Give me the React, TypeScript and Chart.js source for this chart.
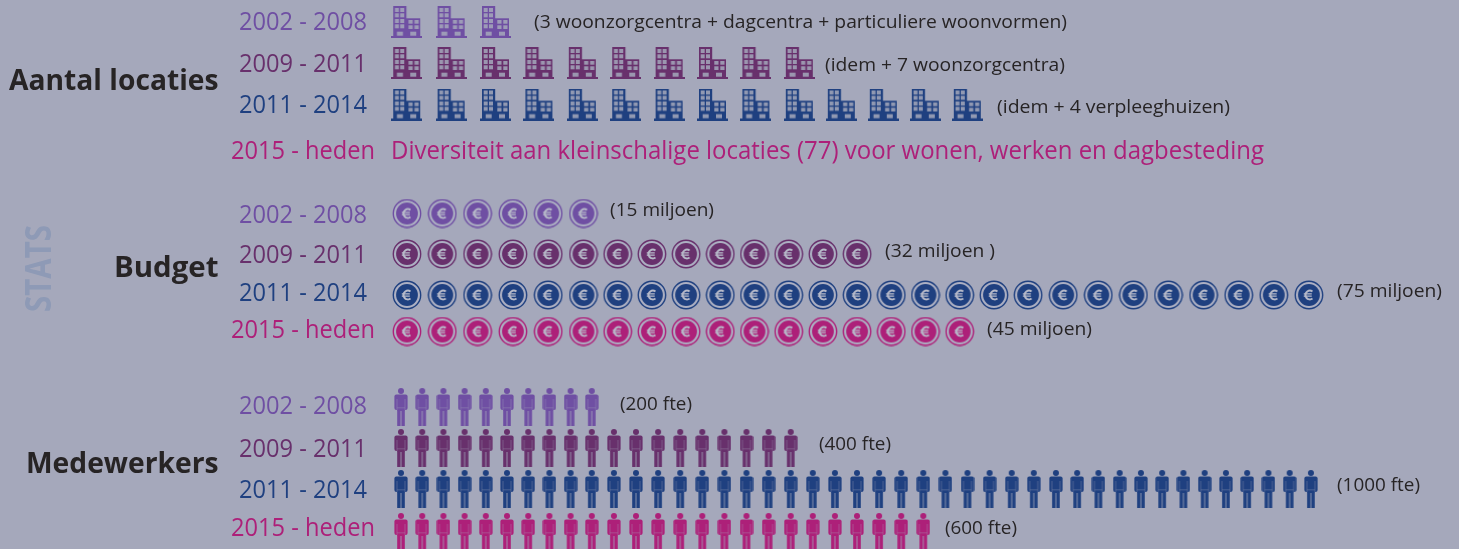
import React, { useEffect, useRef } from "react";
import { Chart, registerables } from "chart.js";

Chart.register(...registerables);

// ---- data ----
const groupNames = ["Aantal locaties", "Budget", "Medewerkers"];
const periods = ["2002 - 2008", "2009 - 2011", "2011 - 2014", "2015 - heden"];
const locationCounts = [3, 10, 14];
const budgetCounts = [6, 14, 27, 17];
const staffCounts = [10, 19, 43, 25];
const locationNotes = [
  "(3 woonzorgcentra + dagcentra + particuliere woonvormen)",
  "(idem + 7 woonzorgcentra)",
  "(idem + 4 verpleeghuizen)",
];
const locationText2015 = "Diversiteit aan kleinschalige locaties (77) voor wonen, werken en dagbesteding";
const budgetNotes = ["(15 miljoen)", "(32 miljoen )", "(75 miljoen)", "(45 miljoen)"];
const staffNotes = ["(200 fte)", "(400 fte)", "(1000 fte)", "(600 fte)"];
const sideTitle = "STATS";

// ---- styles and layout ----
const W = 1459;
const H = 549;
const BG = "#a5a8bb";
const INK = "#272425";
const periodColors = ["#6f4fa3", "#68306c", "#1f4080", "#ad2079"];
const FONT = '"Open Sans"';

const clamp = (v: number, lo: number, hi: number) => Math.max(lo, Math.min(hi, v));
const buildingX = (i: number) => 406.7 + 44.4 * Math.min(i, 2) + 43.4 * clamp(i - 2, 0, 7) + 42 * Math.max(i - 9, 0);
const coinX = (i: number) => 407 + 35.3 * Math.min(i, 5) + 34.2 * clamp(i - 5, 0, 13) + 35.1 * Math.max(i - 18, 0);
const personX = (i: number) => 401 + 21.2 * Math.min(i, 9) + 22.1 * clamp(i - 9, 0, 21) + 21.25 * Math.max(i - 30, 0);

const buildingRowY = [22, 63, 104.5];
const coinRowY = [213.5, 254, 295, 331.5];
const personRowY = [407, 448, 489, 532];

type TextItem = { t: string; l: number; r: number; y: number; c: string; font: string };

function buildTexts(): TextItem[] {
  const out: TextItem[] = [];
  const heading = `bold 29px ${FONT}`;
  const year = `26px ${FONT}`;
  const note = `18px ${FONT}`;
  const heads = [
    { l: 9, y: 90 },
    { l: 114, y: 277 },
    { l: 26, y: 473 },
  ];
  groupNames.forEach((t, i) => out.push({ t, l: heads[i].l, r: 218.5, y: heads[i].y, c: INK, font: heading }));
  const yearBase = [30, 72, 113, 159, 223, 263, 301, 338, 414, 457, 498, 536];
  yearBase.forEach((y, k) => {
    const p = k % 4;
    out.push({ t: periods[p], l: p === 3 ? 231 : 239, r: p === 3 ? 375 : 367, y, c: periodColors[p], font: year });
  });
  const locPos = [
    { l: 534, r: 1067, y: 28 },
    { l: 825, r: 1065, y: 71 },
    { l: 997, r: 1230, y: 113 },
  ];
  locationNotes.forEach((t, i) => out.push({ t, ...locPos[i], c: INK, font: note }));
  out.push({ t: locationText2015, l: 391, r: 1264, y: 159, c: periodColors[3], font: year });
  const budPos = [
    { l: 610, r: 714, y: 216 },
    { l: 885, r: 995, y: 257 },
    { l: 1337, r: 1442, y: 297 },
    { l: 987, r: 1092, y: 335 },
  ];
  budgetNotes.forEach((t, i) => out.push({ t, ...budPos[i], c: INK, font: note }));
  const stfPos = [
    { l: 620, r: 692, y: 410 },
    { l: 819, r: 891, y: 450 },
    { l: 1337, r: 1420, y: 491 },
    { l: 945, r: 1017, y: 534 },
  ];
  staffNotes.forEach((t, i) => out.push({ t, ...stfPos[i], c: INK, font: note }));
  return out;
}

// ---- icons ----
function sheet(w: number, h: number) {
  const c = document.createElement("canvas");
  c.width = w;
  c.height = h;
  return { c, g: c.getContext("2d") as CanvasRenderingContext2D };
}

function buildingIcon(color: string) {
  const { c, g } = sheet(31, 32);
  g.fillStyle = color;
  g.fillRect(2, 0, 13.2, 30);
  g.fillRect(15, 12.3, 14, 18);
  g.fillRect(0, 30, 31, 2);
  g.globalCompositeOperation = "destination-out";
  g.fillStyle = "rgba(0,0,0,0.85)";
  for (const y of [2, 7.3, 13, 18.3]) for (const x of [3.7, 9]) g.fillRect(x, y, 4, 4);
  for (const y of [14, 19.3]) for (const x of [17.3, 23.3]) g.fillRect(x, y, 4.2, 3.7);
  g.fillRect(5.7, 25.7, 6, 4);
  g.fillRect(19, 25.7, 6, 4);
  return c;
}

function coinIcon(color: string) {
  const { c, g } = sheet(30, 30);
  const m = 15;
  g.fillStyle = "#adb0c3";
  g.beginPath();
  g.arc(m, m, 13.5, 0, Math.PI * 2);
  g.fill();
  g.strokeStyle = color;
  g.fillStyle = color;
  g.lineWidth = 1.4;
  g.beginPath();
  g.arc(m, m, 13.7, 0, Math.PI * 2);
  g.stroke();
  g.beginPath();
  g.arc(m, m, 10.9, 0, Math.PI * 2);
  g.fill();
  g.strokeStyle = "#b8bbca";
  g.lineWidth = 2;
  g.beginPath();
  g.arc(m + 0.9, m, 4.4, Math.PI * 0.3, Math.PI * 1.7);
  g.stroke();
  g.lineWidth = 1.3;
  g.beginPath();
  g.moveTo(m - 5.2, m - 1.2);
  g.lineTo(m + 2.8, m - 1.2);
  g.moveTo(m - 5.2, m + 1.2);
  g.lineTo(m + 2.8, m + 1.2);
  g.stroke();
  return c;
}

function personIcon(color: string) {
  const { c, g } = sheet(14, 38);
  g.fillStyle = color;
  g.beginPath();
  g.arc(7, 3, 3, 0, Math.PI * 2);
  g.fill();
  g.beginPath();
  g.roundRect(0.4, 6.6, 13.2, 15.4, 2);
  g.fill();
  g.fillRect(3.2, 21, 7.6, 2);
  g.fillRect(3.2, 22.5, 3.4, 15.5);
  g.fillRect(7.4, 22.5, 3.4, 15.5);
  g.globalCompositeOperation = "destination-out";
  g.fillStyle = "rgba(0,0,0,0.55)";
  g.fillRect(2.7, 11, 0.6, 11);
  g.fillRect(10.7, 11, 0.6, 11);
  g.fillRect(3.2, 19.6, 7.6, 0.6);
  return c;
}

function rowDatasets(counts: number[], rowY: number[], xOf: (i: number) => number, icon: (c: string) => HTMLCanvasElement, label: string) {
  return counts.map((n, row) => ({
    label: `${label} ${periods[row]}`,
    data: Array.from({ length: n }, (_, i) => ({ x: xOf(i), y: rowY[row] })),
    pointStyle: icon(periodColors[row]),
    pointRadius: 10,
    showLine: false,
  }));
}

const textPlugin = {
  id: "infographicText",
  afterDatasetsDraw(chart: any) {
    const { ctx, scales } = chart;
    const px = (v: number) => scales.x.getPixelForValue(v);
    const py = (v: number) => scales.y.getPixelForValue(v);
    ctx.save();
    ctx.textAlign = "left";
    ctx.textBaseline = "alphabetic";
    for (const it of buildTexts()) {
      ctx.font = it.font;
      ctx.fillStyle = it.c;
      const target = px(it.r) - px(it.l);
      const m = ctx.measureText(it.t).width;
      ctx.save();
      ctx.translate(px(it.l), py(it.y));
      ctx.scale(target / m, 1);
      ctx.fillText(it.t, 0, 0);
      ctx.restore();
    }
    // rotated side title
    ctx.font = `bold 35px ${FONT}`;
    ctx.fillStyle = "#8e9ab6";
    const m = ctx.measureText(sideTitle).width;
    ctx.translate(px(50.5), py(312));
    ctx.rotate(-Math.PI / 2);
    ctx.scale(87 / m, 1);
    ctx.fillText(sideTitle, 0, 0);
    ctx.restore();
  },
};

export default function App() {
  const ref = useRef<HTMLCanvasElement | null>(null);
  useEffect(() => {
    document.documentElement.style.overflow = "hidden";
    document.body.style.margin = "0";
    document.body.style.background = BG;
    const chart = new Chart(ref.current as HTMLCanvasElement, {
      type: "scatter",
      data: {
        datasets: [
          ...rowDatasets(locationCounts, buildingRowY, buildingX, buildingIcon, "Aantal locaties"),
          ...rowDatasets(budgetCounts, coinRowY, coinX, coinIcon, "Budget"),
          ...rowDatasets(staffCounts, personRowY, personX, personIcon, "Medewerkers"),
        ] as any,
      },
      options: {
        animation: false,
        responsive: false,
        devicePixelRatio: 1,
        layout: { padding: 0, autoPadding: false },
        events: [],
        plugins: { legend: { display: false }, tooltip: { enabled: false }, title: { display: false } },
        scales: {
          x: { type: "linear", display: false, min: 0, max: W },
          y: { type: "linear", display: false, min: 0, max: H, reverse: true },
        },
      },
      plugins: [textPlugin],
    });
    return () => chart.destroy();
  }, []);
  return <canvas ref={ref} width={W} height={H} style={{ display: "block", background: BG }} />;
}
